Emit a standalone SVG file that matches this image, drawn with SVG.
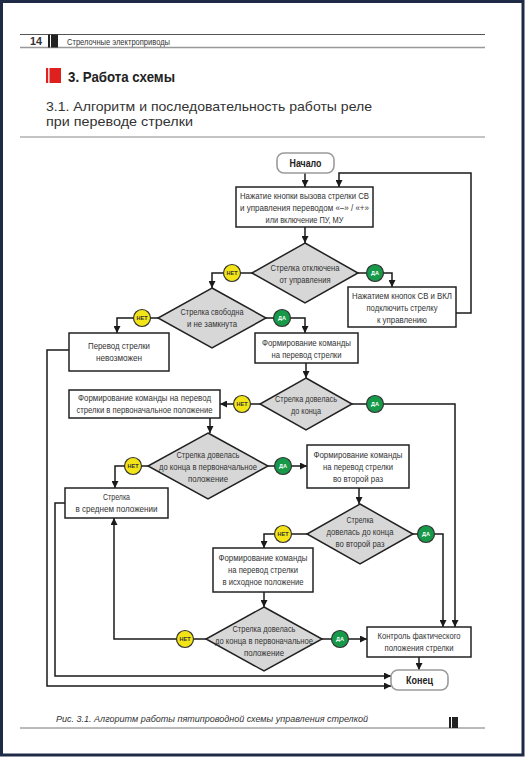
<svg xmlns="http://www.w3.org/2000/svg" width="525" height="758" viewBox="0 0 525 758">
<defs>
<marker id="arr" viewBox="0 0 10 10" refX="10" refY="5" markerWidth="7" markerHeight="7" markerUnits="userSpaceOnUse" orient="auto"><path d="M0,0 L10,5 L0,10 z" fill="#1a1a1a"/></marker>
<style>
.t{font-family:"Liberation Sans",sans-serif;font-size:9px;fill:#333;text-anchor:middle}
.box{fill:#fff;stroke:#222;stroke-width:1.5}
.dia{fill:#d7d7d7;stroke:#222;stroke-width:1.5}
.term{fill:#fff;stroke:#9a9a9a;stroke-width:1.6}
.tt{font-family:"Liberation Sans",sans-serif;font-size:10.5px;font-weight:bold;fill:#222;text-anchor:middle}
.no{fill:#f2e416;stroke:#333;stroke-width:1.2}
.yes{fill:#17994a;stroke:#333;stroke-width:1.2}
.nl{font-family:"Liberation Sans",sans-serif;font-size:5.5px;font-weight:bold;fill:#333;text-anchor:middle}
.yl{font-family:"Liberation Sans",sans-serif;font-size:5.5px;font-weight:bold;fill:#fff;text-anchor:middle}
.c{fill:none;stroke:#1a1a1a;stroke-width:1.5}
.a{fill:none;stroke:#1a1a1a;stroke-width:1.5;marker-end:url(#arr)}
</style>
</defs>
<rect x="0" y="0" width="525" height="758" fill="#fff"/>
<rect x="1.5" y="1.5" width="521.5" height="753.5" fill="none" stroke="#1e2a46" stroke-width="3"/>

<g id="header">
<line x1="20" y1="34.5" x2="485" y2="34.5" stroke="#555" stroke-width="1"/>
<line x1="20" y1="47.5" x2="485" y2="47.5" stroke="#999" stroke-width="1.5"/>
<text x="30" y="45" font-family="Liberation Sans,sans-serif" font-size="10" font-weight="bold" fill="#333" textLength="12" lengthAdjust="spacingAndGlyphs">14</text>
<rect x="48" y="34.5" width="2" height="13" fill="#222"/>
<rect x="51" y="34.5" width="7" height="13" fill="#222"/>
<text x="67" y="44.5" font-family="Liberation Sans,sans-serif" font-size="8.5" fill="#333" textLength="103" lengthAdjust="spacingAndGlyphs">Стрелочные электроприводы</text>
<rect x="46" y="68" width="2.2" height="15" fill="#e0201e"/>
<rect x="49.5" y="68" width="11.5" height="15" fill="#e0201e"/>
<text x="68" y="82" font-family="Liberation Sans,sans-serif" font-size="14.5" font-weight="bold" fill="#222" textLength="107" lengthAdjust="spacingAndGlyphs">3. Работа схемы</text>
<text x="46" y="111" font-family="Liberation Sans,sans-serif" font-size="13.4" fill="#333" textLength="326" lengthAdjust="spacingAndGlyphs">3.1. Алгоритм и последовательность работы реле</text>
<text x="46" y="126" font-family="Liberation Sans,sans-serif" font-size="13.4" fill="#333" textLength="147" lengthAdjust="spacingAndGlyphs">при переводе стрелки</text>
<line x1="20" y1="137" x2="485" y2="137" stroke="#888" stroke-width="1"/>
</g>

<g id="connectors">
<line class="a" x1="305" y1="173" x2="305" y2="187"/>
<polyline class="a" points="456,313 471,313 471,173 339,173 339,187"/>
<line class="a" x1="305" y1="227" x2="305" y2="243"/>
<line class="c" x1="252" y1="273" x2="240.5" y2="273"/>
<polyline class="a" points="223.5,273 212,273 212,288"/>
<line class="c" x1="358" y1="273" x2="366.5" y2="273"/>
<polyline class="a" points="383.5,273 392,273 392,287"/>
<line class="c" x1="158" y1="318" x2="150.5" y2="318"/>
<polyline class="a" points="133.5,318 117,318 117,333"/>
<line class="c" x1="266" y1="318" x2="273.5" y2="318"/>
<polyline class="a" points="290.5,318 305,318 305,333"/>
<polyline class="a" points="69,350 47,350 47,686 391,686"/>
<line class="a" x1="306" y1="363" x2="306" y2="378"/>
<line class="c" x1="260" y1="404" x2="250.5" y2="404"/>
<line class="a" x1="233.5" y1="404" x2="220" y2="404"/>
<line class="c" x1="352" y1="404" x2="366.5" y2="404"/>
<polyline class="a" points="383.5,404 455,404 455,627"/>
<line class="a" x1="210" y1="418" x2="210" y2="433"/>
<line class="c" x1="148" y1="466" x2="141.5" y2="466"/>
<polyline class="a" points="124.5,466 115,466 115,488"/>
<line class="c" x1="268" y1="466" x2="274.5" y2="466"/>
<line class="a" x1="291.5" y1="466" x2="307" y2="466"/>
<polyline class="a" points="65,503 55,503 55,676 391,676"/>
<line class="a" x1="359" y1="488" x2="359" y2="504"/>
<line class="c" x1="307" y1="534" x2="291.5" y2="534"/>
<polyline class="a" points="274.5,534 264,534 264,548"/>
<line class="c" x1="413" y1="534" x2="417.5" y2="534"/>
<polyline class="a" points="434.5,534 443,534 443,627"/>
<line class="a" x1="264" y1="592" x2="264" y2="607"/>
<line class="c" x1="206" y1="639" x2="193.5" y2="639"/>
<polyline class="a" points="176.5,639 114,639 114,518"/>
<line class="c" x1="322" y1="639" x2="331.5" y2="639"/>
<line class="a" x1="348.5" y1="639" x2="367" y2="639"/>
<line class="a" x1="419" y1="657" x2="419" y2="670"/>
</g>

<g id="start">
<rect class="term" x="277" y="153" width="57" height="20" rx="7"/>
<text class="tt" x="305.5" y="167" textLength="32" lengthAdjust="spacingAndGlyphs">Начало</text>
</g>
<g id="end">
<rect class="term" x="391" y="670" width="57" height="20" rx="7"/>
<text class="tt" x="419.5" y="684" textLength="27" lengthAdjust="spacingAndGlyphs">Конец</text>
</g>

<g id="b1">
<rect class="box" x="236" y="187" width="137" height="40"/>
<text class="t" x="304.5" y="199" textLength="129" lengthAdjust="spacingAndGlyphs">Нажатие кнопки вызова стрелки СВ</text>
<text class="t" x="304.5" y="211" textLength="129" lengthAdjust="spacingAndGlyphs">и управления переводом «–» / «+»</text>
<text class="t" x="304.5" y="223" textLength="78" lengthAdjust="spacingAndGlyphs">или включение ПУ, МУ</text>
</g>

<g id="d1">
<polygon class="dia" points="305,243 358,273 305,303 252,273"/>
<text class="t" x="305" y="271" textLength="69" lengthAdjust="spacingAndGlyphs">Стрелка отключена</text>
<text class="t" x="305" y="283" textLength="51" lengthAdjust="spacingAndGlyphs">от управления</text>
</g>
<g id="d1no"><circle class="no" cx="232" cy="273" r="8.5"/><text class="nl" x="232" y="275">НЕТ</text></g>
<g id="d1yes"><circle class="yes" cx="375" cy="273" r="8.5"/><text class="yl" x="375" y="275">ДА</text></g>

<g id="b2">
<rect class="box" x="348" y="287" width="108" height="40"/>
<text class="t" x="402" y="299" textLength="100" lengthAdjust="spacingAndGlyphs">Нажатием кнопок СВ и ВКЛ</text>
<text class="t" x="402" y="311" textLength="71" lengthAdjust="spacingAndGlyphs">подключить стрелку</text>
<text class="t" x="402" y="323" textLength="50" lengthAdjust="spacingAndGlyphs">к управлению</text>
</g>

<g id="d2">
<polygon class="dia" points="212,288 266,318 212,348 158,318"/>
<text class="t" x="212" y="315" textLength="63" lengthAdjust="spacingAndGlyphs">Стрелка свободна</text>
<text class="t" x="212" y="327" textLength="50" lengthAdjust="spacingAndGlyphs">и не замкнута</text>
</g>
<g id="d2no"><circle class="no" cx="142" cy="318" r="8.5"/><text class="nl" x="142" y="320">НЕТ</text></g>
<g id="d2yes"><circle class="yes" cx="282" cy="318" r="8.5"/><text class="yl" x="282" y="320">ДА</text></g>

<g id="b3">
<rect class="box" x="69" y="333" width="100" height="38"/>
<text class="t" x="119" y="349" textLength="62" lengthAdjust="spacingAndGlyphs">Перевод стрелки</text>
<text class="t" x="119" y="361" textLength="46" lengthAdjust="spacingAndGlyphs">невозможен</text>
</g>

<g id="b4">
<rect class="box" x="255" y="333" width="103" height="30"/>
<text class="t" x="306.5" y="346" textLength="89" lengthAdjust="spacingAndGlyphs">Формирование команды</text>
<text class="t" x="306.5" y="357.5" textLength="70" lengthAdjust="spacingAndGlyphs">на перевод стрелки</text>
</g>

<g id="d3">
<polygon class="dia" points="306,378 352,404 306,430 260,404"/>
<text class="t" x="306" y="402" textLength="62" lengthAdjust="spacingAndGlyphs">Стрелка довелась</text>
<text class="t" x="306" y="414" textLength="30" lengthAdjust="spacingAndGlyphs">до конца</text>
</g>
<g id="d3no"><circle class="no" cx="242" cy="404" r="8.5"/><text class="nl" x="242" y="406">НЕТ</text></g>
<g id="d3yes"><circle class="yes" cx="375" cy="404" r="8.5"/><text class="yl" x="375" y="406">ДА</text></g>

<g id="b5">
<rect class="box" x="69" y="390" width="151" height="28"/>
<text class="t" x="144.5" y="401" textLength="133" lengthAdjust="spacingAndGlyphs">Формирование команды на перевод</text>
<text class="t" x="144.5" y="412.5" textLength="136" lengthAdjust="spacingAndGlyphs">стрелки в первоначальное положение</text>
</g>

<g id="d4">
<polygon class="dia" points="208,433 268,466 208,499 148,466"/>
<text class="t" x="208" y="458" textLength="63" lengthAdjust="spacingAndGlyphs">Стрелка довелась</text>
<text class="t" x="208" y="470" textLength="98" lengthAdjust="spacingAndGlyphs">до конца в первоначальное</text>
<text class="t" x="208" y="482" textLength="40" lengthAdjust="spacingAndGlyphs">положение</text>
</g>
<g id="d4no"><circle class="no" cx="133" cy="466" r="8.5"/><text class="nl" x="133" y="468">НЕТ</text></g>
<g id="d4yes"><circle class="yes" cx="283" cy="466" r="8.5"/><text class="yl" x="283" y="468">ДА</text></g>

<g id="b6">
<rect class="box" x="65" y="488" width="103" height="30"/>
<text class="t" x="116.5" y="500" textLength="27" lengthAdjust="spacingAndGlyphs">Стрелка</text>
<text class="t" x="116.5" y="512" textLength="82" lengthAdjust="spacingAndGlyphs">в среднем положении</text>
</g>

<g id="b7">
<rect class="box" x="307" y="445" width="102" height="43"/>
<text class="t" x="358" y="458" textLength="89" lengthAdjust="spacingAndGlyphs">Формирование команды</text>
<text class="t" x="358" y="470" textLength="70" lengthAdjust="spacingAndGlyphs">на перевод стрелки</text>
<text class="t" x="358" y="482" textLength="50" lengthAdjust="spacingAndGlyphs">во второй раз</text>
</g>

<g id="d5">
<polygon class="dia" points="360,504 413,534 360,564 307,534"/>
<text class="t" x="360" y="523" textLength="27" lengthAdjust="spacingAndGlyphs">Стрелка</text>
<text class="t" x="360" y="535" textLength="67" lengthAdjust="spacingAndGlyphs">довелась до конца</text>
<text class="t" x="360" y="547" textLength="49" lengthAdjust="spacingAndGlyphs">во второй раз</text>
</g>
<g id="d5no"><circle class="no" cx="283" cy="534" r="8.5"/><text class="nl" x="283" y="536">НЕТ</text></g>
<g id="d5yes"><circle class="yes" cx="426" cy="534" r="8.5"/><text class="yl" x="426" y="536">ДА</text></g>

<g id="b8">
<rect class="box" x="213" y="548" width="100" height="44"/>
<text class="t" x="263" y="561" textLength="89" lengthAdjust="spacingAndGlyphs">Формирование команды</text>
<text class="t" x="263" y="573" textLength="70" lengthAdjust="spacingAndGlyphs">на перевод стрелки</text>
<text class="t" x="263" y="585" textLength="81" lengthAdjust="spacingAndGlyphs">в исходное положение</text>
</g>

<g id="d6">
<polygon class="dia" points="264,607 322,639 264,671 206,639"/>
<text class="t" x="264" y="632" textLength="63" lengthAdjust="spacingAndGlyphs">Стрелка довелась</text>
<text class="t" x="264" y="644" textLength="98" lengthAdjust="spacingAndGlyphs">до конца в первоначальное</text>
<text class="t" x="264" y="656" textLength="40" lengthAdjust="spacingAndGlyphs">положение</text>
</g>
<g id="d6no"><circle class="no" cx="185" cy="639" r="8.5"/><text class="nl" x="185" y="641">НЕТ</text></g>
<g id="d6yes"><circle class="yes" cx="340" cy="639" r="8.5"/><text class="yl" x="340" y="641">ДА</text></g>

<g id="b9">
<rect class="box" x="367" y="627" width="104" height="30"/>
<text class="t" x="419" y="639" textLength="83" lengthAdjust="spacingAndGlyphs">Контроль фактического</text>
<text class="t" x="419" y="651" textLength="69" lengthAdjust="spacingAndGlyphs">положения стрелки</text>
</g>

<g id="caption">
<text x="56" y="722" font-family="Liberation Sans,sans-serif" font-size="9.5" font-style="italic" fill="#333" textLength="312" lengthAdjust="spacingAndGlyphs">Рис. 3.1. Алгоритм работы пятипроводной схемы управления стрелкой</text>
<line x1="20" y1="728" x2="485" y2="728" stroke="#777" stroke-width="1"/>
<rect x="449" y="717" width="2" height="11" fill="#222"/>
<rect x="452" y="717" width="6" height="11" fill="#222"/>
</g>
</svg>
